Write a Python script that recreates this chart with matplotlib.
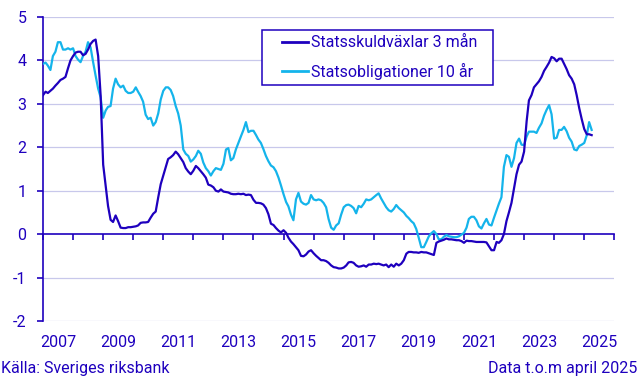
import numpy as np
import pandas as pd
import matplotlib
matplotlib.use("Agg")
import matplotlib.pyplot as plt
import matplotlib.transforms as mtransforms
from matplotlib.patches import Rectangle

plt.rcParams['font.family'] = ['Roboto', 'DejaVu Sans']

# monthly data, Jan 2007 - Apr 2025
months = pd.date_range('2007-01-01', '2025-04-01', freq='MS')

tbill_3m = [
    3.2, 3.28, 3.25, 3.30, 3.35, 3.42, 3.48, 3.55, 3.58, 3.62,
    3.82, 4.0, 4.1, 4.18, 4.2, 4.2, 4.12, 4.15, 4.25, 4.38,
    4.45, 4.48, 4.1, 3.2, 1.6, 1.1, 0.65, 0.33, 0.28, 0.43,
    0.3, 0.15, 0.14, 0.14, 0.16, 0.16, 0.17, 0.18, 0.2, 0.26,
    0.27, 0.27, 0.28, 0.38, 0.47, 0.52, 0.85, 1.15, 1.35, 1.55,
    1.73, 1.77, 1.82, 1.9, 1.84, 1.75, 1.66, 1.52, 1.44, 1.38,
    1.46, 1.57, 1.52, 1.45, 1.38, 1.3, 1.14, 1.12, 1.08, 1.0,
    0.98, 1.03, 0.98, 0.97, 0.96, 0.93, 0.92, 0.92, 0.93, 0.92,
    0.93, 0.9, 0.91, 0.9, 0.79, 0.72, 0.72, 0.71, 0.68, 0.6,
    0.46, 0.24, 0.21, 0.14, 0.08, 0.04, 0.09, 0.03, -0.08, -0.17,
    -0.23, -0.3, -0.37, -0.5, -0.51, -0.47, -0.4, -0.37, -0.44, -0.5,
    -0.55, -0.6, -0.6, -0.62, -0.66, -0.72, -0.76, -0.77, -0.79, -0.79,
    -0.77, -0.72, -0.65, -0.64, -0.66, -0.72, -0.75, -0.74, -0.72, -0.75,
    -0.7, -0.7, -0.68, -0.69, -0.68, -0.7, -0.72, -0.7, -0.76, -0.7,
    -0.75, -0.68, -0.72, -0.68, -0.6, -0.45, -0.41, -0.41, -0.42, -0.42,
    -0.43, -0.41, -0.42, -0.42, -0.44, -0.46, -0.48, -0.2, -0.17, -0.15,
    -0.13, -0.1, -0.12, -0.12, -0.13, -0.14, -0.14, -0.16, -0.2, -0.15,
    -0.16, -0.16, -0.17, -0.18, -0.18, -0.18, -0.18, -0.19, -0.28, -0.37,
    -0.37, -0.18, -0.2, -0.14, 0.0, 0.3, 0.5, 0.72, 1.05, 1.38,
    1.6, 1.67, 1.9, 2.6, 3.08, 3.2, 3.38, 3.45, 3.52, 3.62,
    3.76, 3.85, 3.95, 4.08, 4.05, 3.98, 4.04, 4.04, 3.92, 3.8,
    3.66, 3.58, 3.45, 3.2, 2.9, 2.65, 2.42, 2.3, 2.3, 2.28,
]

bond_10y = [
    3.92, 3.95, 3.88, 3.78, 4.1, 4.2, 4.42, 4.42, 4.25, 4.25,
    4.28, 4.25, 4.28, 4.1, 4.02, 3.96, 4.1, 4.2, 4.42, 4.3,
    3.96, 3.65, 3.35, 3.15, 2.68, 2.85, 2.93, 2.95, 3.35, 3.58,
    3.45, 3.38, 3.42, 3.3, 3.25, 3.25, 3.28, 3.38, 3.28, 3.18,
    3.05, 2.75, 2.65, 2.68, 2.5, 2.58, 2.78, 3.1, 3.3, 3.38,
    3.38, 3.32, 3.18, 2.95, 2.78, 2.5, 1.95, 1.85, 1.8, 1.67,
    1.72, 1.8, 1.92, 1.85, 1.65, 1.52, 1.45, 1.35, 1.45, 1.52,
    1.5, 1.48, 1.62, 1.95, 1.98, 1.7, 1.75, 1.95, 2.1, 2.25,
    2.4, 2.58, 2.35, 2.38, 2.38, 2.28, 2.18, 2.1, 1.96, 1.8,
    1.68, 1.58, 1.54, 1.45, 1.3, 1.12, 0.92, 0.74, 0.64, 0.45,
    0.32, 0.8, 0.95, 0.75, 0.7, 0.68, 0.72, 0.9, 0.8, 0.78,
    0.8, 0.78, 0.72, 0.62, 0.35, 0.15, 0.1, 0.2, 0.25, 0.45,
    0.62, 0.67, 0.68, 0.65, 0.6, 0.48, 0.65, 0.62, 0.7, 0.8,
    0.78, 0.8, 0.85, 0.9, 0.94, 0.82, 0.72, 0.62, 0.55, 0.52,
    0.58, 0.67, 0.6, 0.55, 0.5, 0.42, 0.37, 0.3, 0.25, 0.12,
    -0.08, -0.3, -0.3, -0.18, -0.05, 0.02, 0.07, 0.0, -0.12, -0.12,
    -0.06, -0.02, -0.05, -0.06, -0.07, -0.07, -0.05, -0.01, 0.03, 0.15,
    0.35, 0.4, 0.4, 0.32, 0.18, 0.13, 0.25, 0.35, 0.22, 0.2,
    0.38, 0.55, 0.7, 0.85, 1.55, 1.82, 1.78, 1.55, 1.75, 2.1,
    2.2, 2.06, 2.05, 2.25, 2.36, 2.36, 2.36, 2.33, 2.45, 2.55,
    2.73, 2.86, 2.97, 2.76, 2.2, 2.22, 2.4, 2.4, 2.47, 2.37,
    2.22, 2.13, 1.95, 1.93, 2.03, 2.06, 2.1, 2.28, 2.58, 2.4,
]

series_labels = ['Statsskuldväxlar 3 mån', 'Statsobligationer 10 år']
label_years = list(range(2007, 2026, 2))
y_ticks = [-2, -1, 0, 1, 2, 3, 4, 5]

DARK = '#1E00BE'
LIGHT = '#14B4EB'
GRID = '#C8C8EB'
FS = 11.5

fig = plt.figure(figsize=(6.43, 3.78), dpi=100)
ax = fig.add_axes([43 / 643, 1 - 321 / 378, (614.3 - 43) / 643, (321 - 17) / 378])

ax.plot(months, tbill_3m, color=DARK, lw=1.6, label=series_labels[0], zorder=4)
ax.plot(months, bond_10y, color=LIGHT, lw=1.6, label=series_labels[1], zorder=3)

ax.set_xlim(pd.Timestamp('2007-01-01'), pd.Timestamp('2026-01-01'))
ax.set_ylim(-2, 5)

# grid
for v in y_ticks:
    if v != 0:
        ax.axhline(v, color=GRID, lw=0.9, zorder=1)

ax.spines['top'].set_visible(False)
ax.spines['right'].set_visible(False)
ax.spines['left'].set_color(DARK)
ax.spines['left'].set_linewidth(1.2)
ax.spines['bottom'].set_position(('data', 0))
ax.spines['bottom'].set_color(DARK)
ax.spines['bottom'].set_linewidth(1.2)
ax.spines['bottom'].set_zorder(2)

ax.set_yticks(y_ticks)
ax.set_yticklabels([str(v) for v in y_ticks])
ax.tick_params(axis='y', colors=DARK, labelcolor=DARK, labelsize=FS,
               length=4, width=1.2, pad=8)

year_ticks = pd.date_range('2007-01-01', '2026-01-01', freq='YS')
ax.set_xticks(year_ticks)
ax.set_xticklabels([])
ax.tick_params(axis='x', colors=DARK, length=4.5, width=1.2, direction='out')

trans = mtransforms.blended_transform_factory(ax.transData, ax.transAxes)
for yr in label_years:
    ax.text(pd.Timestamp(f'{yr}-07-01'), -0.07, str(yr), transform=trans,
            ha='center', va='center', color=DARK, fontsize=FS)

# legend box drawn by hand, legend itself frameless
ax.add_patch(Rectangle((262 / 643, 1 - 85 / 378), (493 - 262) / 643, 55 / 378,
                       transform=fig.transFigure, facecolor='white',
                       edgecolor=DARK, lw=1.1, zorder=5, clip_on=False))
leg = ax.legend(loc='center left', bbox_to_anchor=(282 / 643, 1 - 57.5 / 378),
                bbox_transform=fig.transFigure, borderaxespad=0, borderpad=0,
                frameon=False, fontsize=FS, handlelength=1.6, handletextpad=0.2,
                labelspacing=0.78)
leg.set_zorder(6)
for line in leg.get_lines():
    line.set_linewidth(2.0)
for t in leg.get_texts():
    t.set_color(DARK)

fig.text(1 / 643, 1 - 368 / 378, 'Källa: Sveriges riksbank', ha='left', va='center',
         color=DARK, fontsize=FS)
fig.text(637 / 643, 1 - 368 / 378, 'Data t.o.m april 2025', ha='right', va='center',
         color=DARK, fontsize=FS)

fig.savefig('out.png', dpi=100)
